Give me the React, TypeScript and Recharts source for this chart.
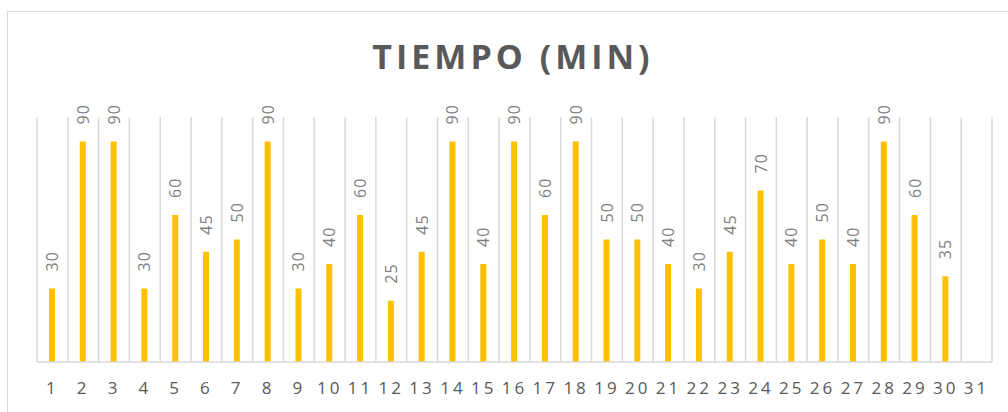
import React from "react";
import { BarChart, Bar, XAxis, YAxis, CartesianGrid, LabelList } from "recharts";

const days = Array.from({ length: 31 }, (_, i) => String(i + 1));
const minutes: (number | null)[] = [
  30, 90, 90, 30, 60, 45, 50, 90, 30, 40, 60, 25, 45, 90, 40, 90,
  60, 90, 50, 50, 40, 30, 45, 70, 40, 50, 40, 90, 60, 35, null,
];

const data = days.map((d, i) => ({ day: d, min: minutes[i] }));

const FONT = "'Open Sans', 'Liberation Sans', sans-serif";

function DayTick(props: any) {
  const { x, y, payload } = props;
  return (
    <text x={x} y={y} dy={23.5} textAnchor="middle" fill="#595959" fontSize={17} fontFamily={FONT} letterSpacing={3}>
      {payload.value}
    </text>
  );
}

function ValueLabel(props: any) {
  const { x, y, width, value } = props;
  if (value == null) return null;
  const cx = x + width / 2;
  const cy = y - 17;
  return (
    <text
      x={cx}
      y={cy}
      transform={`rotate(-90 ${cx} ${cy})`}
      textAnchor="start"
      dominantBaseline="central"
      fill="#7f7f7f"
      fontSize={16}
      fontFamily={FONT}
      letterSpacing={1}
    >
      {value}
    </text>
  );
}

export default function App() {
  return (
    <div style={{ position: "fixed", left: 0, top: 0, width: 1008, height: 412, overflow: "hidden", background: "#fff" }}>
      <div
        style={{
          position: "absolute",
          left: 7,
          top: 11,
          width: 1040,
          height: 440,
          border: "1px solid #d9d9d9",
        }}
      />
      <div
        style={{
          position: "absolute",
          left: 0,
          width: 1026,
          top: 34,
          textAlign: "center",
          fontFamily: FONT,
          fontWeight: 700,
          fontSize: 34,
          lineHeight: "44px",
          letterSpacing: 4,
          color: "#595959",
        }}
      >
        TIEMPO (MIN)
      </div>
      <div style={{ position: "absolute", left: 0, top: 0 }}>
        <BarChart width={1008} height={412} data={data} margin={{ top: 117, right: 16, bottom: 20, left: 37 }}>
          <CartesianGrid
            horizontal={false}
            stroke="#d9d9d9"
            strokeWidth={1.5}
            verticalCoordinatesGenerator={({ offset }: any) =>
              days.map((_, i) => offset.left + (i * offset.width) / days.length).concat(offset.left + offset.width)
            }
          />
          <XAxis
            dataKey="day"
            height={30}
            axisLine={{ stroke: "#d9d9d9", strokeWidth: 1.5 }}
            tickLine={false}
            interval={0}
            tick={<DayTick />}
          />
          <YAxis hide domain={[0, 100]} />
          <Bar dataKey="min" fill="#FFC000" barSize={6} isAnimationActive={false}>
            <LabelList dataKey="min" content={<ValueLabel />} />
          </Bar>
        </BarChart>
      </div>
    </div>
  );
}
